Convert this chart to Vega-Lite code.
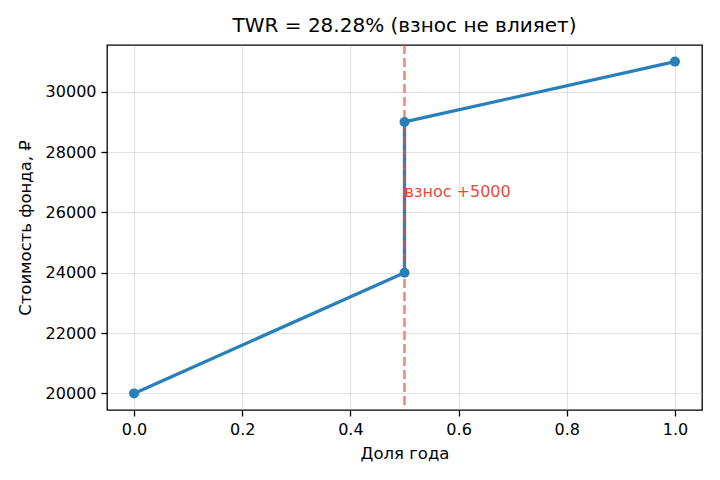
{
  "$schema": "https://vega.github.io/schema/vega-lite/v6.json",
  "width": 595,
  "height": 365,
  "autosize": {"type": "none"},
  "padding": {"left": 107, "top": 45, "right": 18, "bottom": 70},
  "background": "white",
  "config": {
    "font": "DejaVu Sans",
    "view": {"stroke": "black", "strokeWidth": 1.3},
    "axis": {
      "labelFont": "DejaVu Sans",
      "titleFont": "DejaVu Sans",
      "labelFontSize": 16,
      "titleFontSize": 16.5,
      "titleFontWeight": "normal",
      "labelColor": "black",
      "titleColor": "black",
      "tickColor": "black",
      "tickWidth": 1.3,
      "domain": false,
      "tickSize": 6,
      "labelPadding": 5,
      "gridColor": "#b0b0b0",
      "gridOpacity": 0.35,
      "gridWidth": 1.2
    },
    "title": {"font": "DejaVu Sans", "fontSize": 20, "fontWeight": "normal", "color": "black", "offset": 8}
  },
  "title": "TWR = 28.28% (взнос не влияет)",
  "datasets": {
    "pts": [
      {"t": 0.0, "v": 20000, "o": 1},
      {"t": 0.5, "v": 24000, "o": 2},
      {"t": 0.5, "v": 29000, "o": 3},
      {"t": 1.0, "v": 31000, "o": 4}
    ],
    "evt": [{"t": 0.5, "v": 26500, "label": "взнос +5000"}]
  },
  "layer": [
    {
      "data": {"name": "pts"},
      "mark": {"type": "line", "color": "#2980b9", "strokeWidth": 3.3},
      "encoding": {
        "x": {"field": "t", "type": "quantitative", "scale": {"domain": [-0.05, 1.05], "nice": false, "zero": false},
          "axis": {"title": "Доля года", "values": [0, 0.2, 0.4, 0.6, 0.8, 1.0], "format": ".1f", "titlePadding": 8}},
        "y": {"field": "v", "type": "quantitative", "scale": {"domain": [19450, 31550], "nice": false, "zero": false},
          "axis": {"title": "Стоимость фонда, ₽", "values": [20000, 22000, 24000, 26000, 28000, 30000], "format": "d", "titlePadding": 12}},
        "order": {"field": "o", "type": "quantitative"}
      }
    },
    {
      "data": {"name": "evt"},
      "mark": {"type": "rule", "color": "#e74c3c", "opacity": 0.65, "strokeDash": [9, 4], "strokeWidth": 2.6},
      "encoding": {"x": {"field": "t", "type": "quantitative"}}
    },
    {
      "data": {"name": "pts"},
      "mark": {"type": "circle", "color": "#2980b9", "opacity": 1, "size": 100},
      "encoding": {
        "x": {"field": "t", "type": "quantitative"},
        "y": {"field": "v", "type": "quantitative"}
      }
    },
    {
      "data": {"name": "evt"},
      "mark": {"type": "text", "color": "#e74c3c", "align": "left", "baseline": "alphabetic", "fontSize": 16, "font": "DejaVu Sans"},
      "encoding": {
        "x": {"field": "t", "type": "quantitative"},
        "y": {"field": "v", "type": "quantitative"},
        "text": {"field": "label"}
      }
    }
  ]
}
